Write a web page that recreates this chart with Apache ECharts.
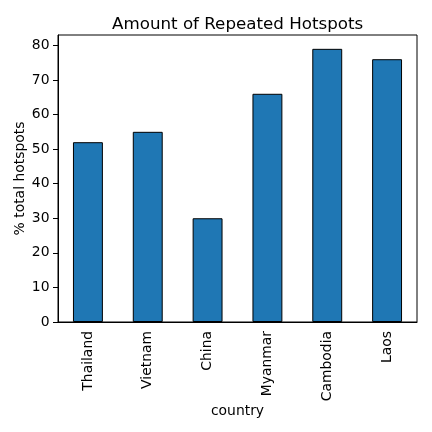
<!DOCTYPE html>
<html><head><meta charset="utf-8">
<script src="https://cdn.jsdelivr.net/npm/echarts@6/dist/echarts.min.js"></script>
<style>html,body{margin:0;padding:0;background:#fff}#c{width:432px;height:432px}</style>
</head><body><div id="c"></div>
<script>
const categories = ["Thailand", "Vietnam", "China", "Myanmar", "Cambodia", "Laos"];
const values = [52, 55, 30, 66, 79, 76];
const yTicks = [0, 10, 20, 30, 40, 50, 60, 70, 80];

const F = "DejaVu Sans";
const chart = echarts.init(document.getElementById('c'), null, {renderer: 'canvas'});
chart.setOption({
  animation: false,
  title: {text: "Amount of Repeated Hotspots", left: 107, top: 11,
    textStyle: {fontFamily: F, fontSize: 16.7, fontWeight: 'normal', color: '#000'}},
  grid: {left: 58, right: 15, top: 35, bottom: 110, show: true, borderColor: '#000', borderWidth: 1},
  xAxis: {type: 'category', data: categories, name: 'country', nameLocation: 'middle', nameGap: 82,
    nameMoveOverlap: false,
    nameTextStyle: {fontFamily: F, fontSize: 13.9, color: '#000'},
    axisLine: {lineStyle: {color: '#000'}},
    axisTick: {alignWithLabel: true, length: 5, lineStyle: {color: '#000'}},
    axisLabel: {rotate: 90, fontFamily: F, fontSize: 13.9, color: '#000', margin: 9}},
  yAxis: {type: 'value', min: 0, max: 83, interval: 10, name: '% total hotspots', nameLocation: 'middle', nameGap: 31,
    nameMoveOverlap: false,
    nameTextStyle: {fontFamily: F, fontSize: 13.9, color: '#000'},
    splitLine: {show: false},
    axisLine: {show: true, lineStyle: {color: '#000'}},
    axisTick: {show: true, length: 5, lineStyle: {color: '#000'}},
    axisLabel: {fontFamily: F, fontSize: 13.9, color: '#000', margin: 8.5, showMaxLabel: false,
      formatter: v => yTicks.includes(v) ? String(v) : ''}},
  series: [{type: 'bar', data: values, barWidth: '50%',
    itemStyle: {color: '#1f77b4', borderColor: '#000', borderWidth: 1}}]
});
</script></body></html>
